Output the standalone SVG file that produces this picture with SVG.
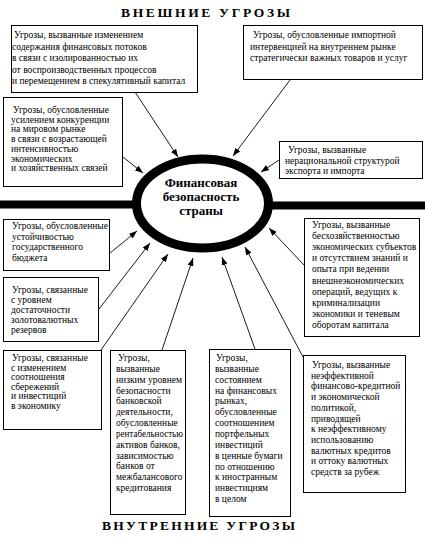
<svg xmlns="http://www.w3.org/2000/svg" width="425" height="541" viewBox="0 0 425 541">
<style>
.bg{fill:#fff}
.box{fill:#fff;stroke:#000;stroke-width:1}
.t{font-family:"Liberation Serif","DejaVu Serif",serif;font-size:9.5px;fill:#000}
.title{font-family:"Liberation Serif","DejaVu Serif",serif;font-size:13.5px;font-weight:bold;fill:#000}
.center{font-family:"Liberation Serif","DejaVu Serif",serif;font-size:13px;font-weight:bold;fill:#000;text-anchor:middle}
.con{stroke:#000;stroke-width:0.9;fill:none;marker-end:url(#arr)}
.bar{stroke:#000;stroke-width:8;fill:none}
.ring{stroke:#000;stroke-width:9;fill:#fff}
</style>
<defs>
<marker id="arr" viewBox="0 0 8 6" refX="8" refY="3" markerWidth="8" markerHeight="6" orient="auto" markerUnits="userSpaceOnUse">
<path d="M0,0 L8,3 L0,6 z" fill="#000"/>
</marker>
</defs>
<rect class="bg" x="0" y="0" width="425" height="541"/>

<text class="title" x="121" y="17" textLength="169" lengthAdjust="spacing">ВНЕШНИЕ УГРОЗЫ</text>
<text class="title" x="102" y="530" textLength="193" lengthAdjust="spacing">ВНУТРЕННИЕ УГРОЗЫ</text>

<g id="connectors">
<line class="bar" x1="0" y1="204.5" x2="140" y2="204.5"/>
<line class="bar" x1="265" y1="205.5" x2="425" y2="205.5"/>
<path class="con" d="M135,92 L178,157"/>
<path class="con" d="M290,80 L233,156"/>
<path class="con" d="M123,157 L143,173"/>
<path class="con" d="M279,160 L261,172"/>
<path class="con" d="M110,253 L137,231"/>
<path class="con" d="M99,309 L150,243"/>
<path class="con" d="M101,350 L168,254"/>
<path class="con" d="M162,350 L193,258"/>
<path class="con" d="M255,349 L222,257"/>
<path class="con" d="M303,357 L245,247"/>
<path class="con" d="M304,265 L269,228"/>
</g>

<g id="core">
<ellipse class="ring" cx="202.5" cy="203.5" rx="66" ry="44.5"/>
<text class="center" x="201" y="187">Финансовая</text>
<text class="center" x="201" y="201">безопасность</text>
<text class="center" x="201" y="215">страны</text>
</g>

<g id="n1">
<rect class="box" x="11.5" y="25.5" width="186" height="67"/>
<text class="t" x="14" y="38">Угрозы, вызванные изменением</text>
<text class="t" x="12" y="49.5">содержания финансовых потоков</text>
<text class="t" x="12" y="61">в связи с изолированностью их</text>
<text class="t" x="12" y="72.5">от воспроизводственных процессов</text>
<text class="t" x="12" y="84">и перемещением в спекулятивный капитал</text>
</g>

<g id="n2">
<rect class="box" x="243.5" y="25.5" width="179" height="54"/>
<text class="t" x="253" y="38">Угрозы, обусловленные импортной</text>
<text class="t" x="250" y="49.5">интервенцией на внутреннем рынке</text>
<text class="t" x="250" y="61">стратегически важных товаров и услуг</text>
</g>

<g id="n3">
<rect class="box" x="3.5" y="97.5" width="119" height="89"/>
<text class="t" x="13" y="113">Угрозы, обусловленные</text>
<text class="t" x="11" y="122.7">усилением конкуренции</text>
<text class="t" x="11" y="132.4">на мировом рынке</text>
<text class="t" x="11" y="142.1">в связи с возрастающей</text>
<text class="t" x="11" y="151.8">интенсивностью</text>
<text class="t" x="11" y="161.5">экономических</text>
<text class="t" x="11" y="171.2">и хозяйственных связей</text>
</g>

<g id="n4">
<rect class="box" x="279.5" y="141.5" width="143" height="37"/>
<text class="t" x="288" y="153">Угрозы, вызванные</text>
<text class="t" x="285" y="163.5">нерациональной структурой</text>
<text class="t" x="285" y="174">экспорта и импорта</text>
</g>

<g id="n5">
<rect class="box" x="3.5" y="219.5" width="106" height="51"/>
<text class="t" x="12" y="229">Угрозы, обусловленные</text>
<text class="t" x="12" y="239.7">устойчивостью</text>
<text class="t" x="12" y="250.4">государственного</text>
<text class="t" x="12" y="261.1">бюджета</text>
</g>

<g id="n6">
<rect class="box" x="3.5" y="277.5" width="95" height="64"/>
<text class="t" x="12" y="293">Угрозы, связанные</text>
<text class="t" x="11" y="303">с уровнем</text>
<text class="t" x="11" y="313">достаточности</text>
<text class="t" x="11" y="323">золотовалютных</text>
<text class="t" x="11" y="333">резервов</text>
</g>

<g id="n7">
<rect class="box" x="3.5" y="350.5" width="98" height="79"/>
<text class="t" x="12" y="361">Угрозы, связанные</text>
<text class="t" x="11" y="370.6">с изменением</text>
<text class="t" x="11" y="380.2">соотношения</text>
<text class="t" x="11" y="389.8">сбережений</text>
<text class="t" x="11" y="399.4">и инвестиций</text>
<text class="t" x="11" y="409">в экономику</text>
</g>

<g id="n8">
<rect class="box" x="110.5" y="350.5" width="75" height="164"/>
<text class="t" x="118" y="361">Угрозы,</text>
<text class="t" x="116" y="371.8">вызванные</text>
<text class="t" x="116" y="382.7">низким уровнем</text>
<text class="t" x="116" y="393.5">безопасности</text>
<text class="t" x="116" y="404.3">банковской</text>
<text class="t" x="116" y="415.2">деятельности,</text>
<text class="t" x="116" y="426">обусловленные</text>
<text class="t" x="116" y="436.8" textLength="67" lengthAdjust="spacingAndGlyphs">рентабельностью</text>
<text class="t" x="116" y="447.6">активов банков,</text>
<text class="t" x="116" y="458.5">зависимостью</text>
<text class="t" x="116" y="469.3">банков от</text>
<text class="t" x="116" y="480.1">межбалансового</text>
<text class="t" x="116" y="491">кредитования</text>
</g>

<g id="n9">
<rect class="box" x="209.5" y="349.5" width="81" height="167"/>
<text class="t" x="216" y="361">Угрозы,</text>
<text class="t" x="215" y="371.8">вызванные</text>
<text class="t" x="215" y="382.7">состоянием</text>
<text class="t" x="215" y="393.5">на финансовых</text>
<text class="t" x="215" y="404.4">рынках,</text>
<text class="t" x="215" y="415.2">обусловленные</text>
<text class="t" x="215" y="426.1">соотношением</text>
<text class="t" x="215" y="437">портфельных</text>
<text class="t" x="215" y="447.8">инвестиций</text>
<text class="t" x="215" y="458.6">в ценные бумаги</text>
<text class="t" x="215" y="469.5">по отношению</text>
<text class="t" x="215" y="480.3">к иностранным</text>
<text class="t" x="215" y="491.2">инвестициям</text>
<text class="t" x="215" y="502">в целом</text>
</g>

<g id="n10">
<rect class="box" x="303.5" y="355.5" width="102" height="137"/>
<text class="t" x="312" y="368">Угрозы, вызванные</text>
<text class="t" x="311" y="378.7">неэффективной</text>
<text class="t" x="311" y="389.4">финансово-кредитной</text>
<text class="t" x="311" y="400.1">и экономической</text>
<text class="t" x="311" y="410.8">политикой,</text>
<text class="t" x="311" y="421.5">приводящей</text>
<text class="t" x="311" y="432.2">к неэффективному</text>
<text class="t" x="311" y="442.9">использованию</text>
<text class="t" x="311" y="453.6">валютных кредитов</text>
<text class="t" x="311" y="464.3">и оттоку валютных</text>
<text class="t" x="311" y="475">средств за рубеж</text>
</g>

<g id="n11">
<rect class="box" x="304.5" y="218.5" width="115" height="118"/>
<text class="t" x="312" y="228">Угрозы, вызванные</text>
<text class="t" x="312" y="239.1">бесхозяйственностью</text>
<text class="t" x="312" y="250.2">экономических субъектов</text>
<text class="t" x="312" y="261.3">и отсутствием знаний и</text>
<text class="t" x="312" y="272.4">опыта при ведении</text>
<text class="t" x="312" y="283.5">внешнеэкономических</text>
<text class="t" x="312" y="294.6">операций, ведущих к</text>
<text class="t" x="312" y="305.7">криминализации</text>
<text class="t" x="312" y="316.8">экономики и теневым</text>
<text class="t" x="312" y="328">оборотам капитала</text>
</g>
</svg>
